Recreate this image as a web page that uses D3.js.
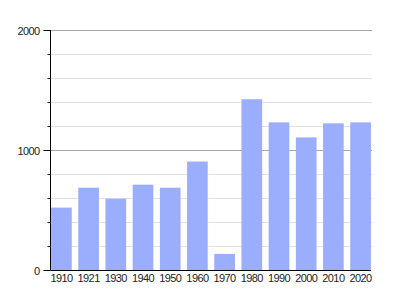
<!DOCTYPE html>
<html><head><meta charset="utf-8">
<script src="https://cdn.jsdelivr.net/npm/d3@7"></script>
<style>body{margin:0;background:#fff}svg{display:block}text{font-family:"Liberation Sans",Arial,sans-serif;fill:#222}</style>
</head><body><svg id="c" width="400" height="300"></svg>
<script>
const years = ["1910","1921","1930","1940","1950","1960","1970","1980","1990","2000","2010","2020"];
const population = [520, 686, 594, 711, 686, 904, 134, 1423, 1230, 1105, 1222, 1230];
const majorTicks = [0, 1000, 2000];
const minorTicks = [200, 400, 600, 800, 1200, 1400, 1600, 1800];

const svg = d3.select("#c");
const x = d3.scaleBand().domain(years).range([50, 372]).paddingInner(0.24).paddingOuter(0.04);
const y = d3.scaleLinear().domain([0, 2000]).range([270, 30]);

// minor gridlines
svg.append("g").selectAll("line").data(minorTicks).join("line")
  .attr("x1", 50).attr("x2", 372)
  .attr("y1", d => y(d) + 0.5).attr("y2", d => y(d) + 0.5)
  .attr("stroke", "#e2e2e2").attr("stroke-width", 1);
// major gridlines
svg.append("g").selectAll("line").data(majorTicks.filter(d => d > 0)).join("line")
  .attr("x1", 50).attr("x2", 372)
  .attr("y1", d => y(d) + 0.5).attr("y2", d => y(d) + 0.5)
  .attr("stroke", "#a8a8a8").attr("stroke-width", 1);

// bars
svg.append("g").selectAll("rect").data(years).join("rect")
  .attr("x", d => x(d)).attr("width", x.bandwidth())
  .attr("y", (d, i) => y(population[i]))
  .attr("height", (d, i) => y(0) - y(population[i]))
  .attr("fill", "#9badfd");

// y axis
const ya = svg.append("g").attr("transform", "translate(50.5,0)");
ya.append("line").attr("x1", 0).attr("x2", 0).attr("y1", y(2000)).attr("y2", y(0)).attr("stroke", "#000");
ya.selectAll(".mj").data(majorTicks).join("line").attr("class", "mj")
  .attr("x1", -7).attr("x2", 0).attr("y1", d => y(d) + 0.5).attr("y2", d => y(d) + 0.5).attr("stroke", "#000");
ya.selectAll(".mn").data(minorTicks).join("line").attr("class", "mn")
  .attr("x1", -3).attr("x2", 0).attr("y1", d => y(d) + 0.5).attr("y2", d => y(d) + 0.5).attr("stroke", "#000");
ya.selectAll("text").data(majorTicks).join("text")
  .attr("x", -11).attr("y", d => y(d) + 4.5)
  .attr("text-anchor", "end").attr("font-size", 11).attr("letter-spacing", "-0.6px")
  .text(d => d);

// x axis
svg.append("line").attr("x1", 50).attr("x2", 371).attr("y1", 270.5).attr("y2", 270.5).attr("stroke", "#000");
svg.append("g").selectAll("text").data(years).join("text")
  .attr("x", d => x(d) + x.bandwidth() / 2).attr("y", 282)
  .attr("text-anchor", "middle").attr("font-size", 11).attr("letter-spacing", "-0.6px")
  .text(d => d);
</script></body></html>
